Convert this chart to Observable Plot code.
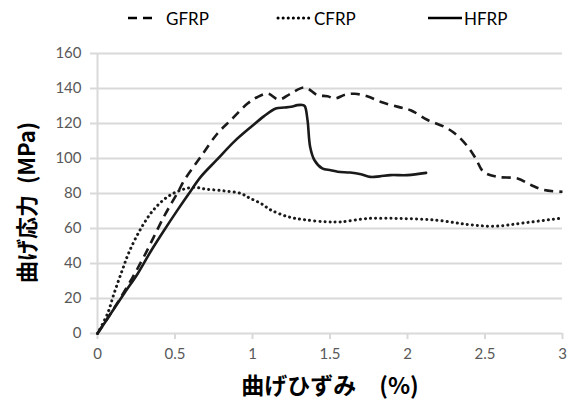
<!DOCTYPE html>
<html><head><meta charset="utf-8">
<script src="https://cdn.jsdelivr.net/npm/d3@7"></script>
<script src="https://cdn.jsdelivr.net/npm/@observablehq/plot@0.6"></script>
<style>
body{margin:0;background:#fff;font-family:Lato,"Noto Sans CJK JP",sans-serif;}
#wrap{position:relative;width:574px;height:405px;}
#legend{position:relative;height:38px;font-size:17px;color:#000;}
.item{position:absolute;top:7px;display:flex;align-items:center;height:22px;}
.item svg{display:block;}
</style></head><body>
<div id="wrap"><div id="legend"></div><div id="chart"></div></div>
<script>
const seriesNames = ["GFRP", "CFRP", "HFRP"];

const gfrpStrain = [0, 0.1, 0.2, 0.3, 0.43, 0.52, 0.56, 0.666, 0.774, 0.86, 0.968, 1.03, 1.097, 1.17, 1.247, 1.337, 1.42, 1.484, 1.53, 1.60, 1.66, 1.74, 1.83, 1.94, 2.02, 2.13, 2.24, 2.31, 2.39, 2.44, 2.49, 2.58, 2.71, 2.80, 2.88, 3.0];
const gfrpStress = [0, 13.5, 28, 44, 67, 81, 87.6, 101, 114.3, 121.9, 131.4, 135, 137.1, 133.7, 137.1, 140.6, 136.2, 135.6, 134.3, 136.5, 137, 135.6, 132.3, 129.5, 127.6, 122, 118, 114, 106.6, 100, 92.4, 89.5, 88.6, 84.7, 82, 81];

const cfrpStrain = [0, 0.065, 0.107, 0.16, 0.204, 0.28, 0.36, 0.45, 0.54, 0.62, 0.70, 0.817, 0.925, 0.98, 1.054, 1.12, 1.23, 1.33, 1.48, 1.57, 1.74, 1.96, 2.19, 2.39, 2.56, 2.75, 3.0];
const cfrpStress = [0, 11.4, 22.9, 36.2, 46.6, 60, 70.5, 78, 82, 83.5, 82.5, 81.5, 80, 77.5, 74.3, 70.5, 66.7, 65.1, 63.8, 63.8, 65.7, 65.7, 64.7, 62.3, 61.3, 63.2, 66];

const hfrpStrain = [0, 0.086, 0.172, 0.258, 0.344, 0.43, 0.516, 0.59, 0.666, 0.774, 0.88, 0.99, 1.075, 1.15, 1.204, 1.25, 1.29, 1.32, 1.337, 1.355, 1.372, 1.40, 1.45, 1.505, 1.55, 1.63, 1.70, 1.76, 1.82, 1.89, 2.0, 2.12];
const hfrpStress = [0, 11.4, 22.9, 34, 47, 59, 70.5, 80, 89.5, 99.6, 109.5, 118, 124.2, 128.6, 129.1, 129.6, 130.5, 130.6, 129.9, 121.9, 106.6, 99, 94.3, 93.3, 92.4, 92, 91, 89.5, 89.8, 90.5, 90.5, 91.8];

const xTicks = [0, 0.5, 1, 1.5, 2, 2.5, 3];
const yTicks = [0, 20, 40, 60, 80, 100, 120, 140, 160];
const xLabel = "曲げひずみ　(%)";
const yLabel = "曲げ応力\u2002(MPa)";

const toRows = (xs, ys) => xs.map((x, i) => ({x, y: ys[i]}));
const gfrp = toRows(gfrpStrain, gfrpStress);
const cfrp = toRows(cfrpStrain, cfrpStress);
const hfrp = toRows(hfrpStrain, hfrpStress);

const styles = {
  GFRP: {strokeWidth: 2.6, strokeDasharray: "9,6", strokeLinecap: "butt"},
  CFRP: {strokeWidth: 3, strokeDasharray: "0.1,5", strokeLinecap: "round"},
  HFRP: {strokeWidth: 2.6}
};

// legend
const legendPos = {GFRP: [128, 30], CFRP: [276, 36], HFRP: [428, 34]};
const legend = document.getElementById("legend");
seriesNames.forEach(n => {
  const [left, w] = legendPos[n];
  const st = styles[n];
  const d = document.createElement("div");
  d.className = "item";
  d.style.left = left + "px";
  d.innerHTML = `<svg width="${w}" height="10"><line x1="${n==="CFRP"?2:0}" y1="5" x2="${w-(n==="CFRP"?2:0)}" y2="5" stroke="#000" stroke-width="${st.strokeWidth}" ${st.strokeDasharray?`stroke-dasharray="${st.strokeDasharray}"`:""} stroke-linecap="${st.strokeLinecap||"butt"}"/></svg><span style="margin-left:${n==="GFRP"?8:2}px">${n}</span>`;
  legend.appendChild(d);
});

const chart = Plot.plot({
  width: 574,
  height: 367,
  marginTop: 15,
  marginBottom: 72,
  marginLeft: 97,
  marginRight: 12,
  style: {fontFamily: "Lato, 'Noto Sans CJK JP', sans-serif", fontSize: "15px", background: "white"},
  x: {domain: [0, 3], ticks: xTicks, tickFormat: d => String(d)},
  y: {domain: [0, 160], ticks: yTicks},
  marks: [
    Plot.gridY(yTicks, {stroke: "#d9d9d9", strokeWidth: 2, strokeOpacity: 1}),
    Plot.ruleX([0], {stroke: "#d9d9d9", strokeWidth: 2}),
    Plot.axisY(yTicks, {tickSize: 7, tickPadding: 9, stroke: "#d9d9d9", strokeWidth: 2, fill: "#595959", label: null}),
    Plot.axisX(xTicks, {tickSize: 6, tickPadding: 9, stroke: "#d9d9d9", strokeWidth: 2, fill: "#595959", label: null, tickFormat: d => String(d)}),
    Plot.line(cfrp, {x: "x", y: "y", stroke: "#1a1a1a", curve: "catmull-rom", ...styles.CFRP}),
    Plot.line(gfrp, {x: "x", y: "y", stroke: "#1a1a1a", curve: "catmull-rom", ...styles.GFRP}),
    Plot.line(hfrp, {x: "x", y: "y", stroke: "#1a1a1a", curve: "catmull-rom", ...styles.HFRP}),
    Plot.text([yLabel], {text: d => d, frameAnchor: "left", textAnchor: "middle", dx: -70, dy: 9, rotate: -90, fontSize: 22, fontWeight: 600, fill: "#000", fontFamily: "'Noto Sans CJK JP', sans-serif"}),
    Plot.text([xLabel], {text: d => d, frameAnchor: "bottom", textAnchor: "middle", dy: 60, fontSize: 23, fontWeight: 600, fill: "#000", fontFamily: "'Noto Sans CJK JP', sans-serif"})
  ]
});
document.getElementById("chart").appendChild(chart);
</script>
</body></html>
